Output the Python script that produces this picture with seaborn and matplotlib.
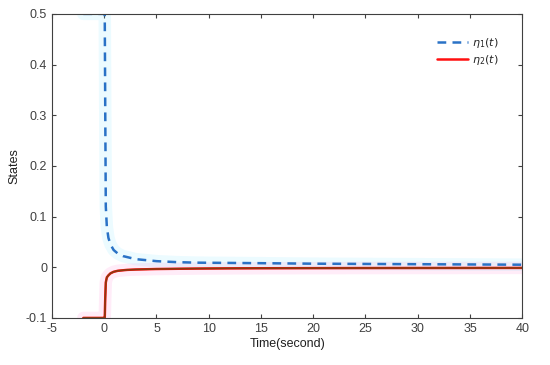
import numpy as np
import pandas as pd
import matplotlib
matplotlib.use("Agg")
import matplotlib.pyplot as plt
import seaborn as sns

# data
t = [-2, -1, 0, 0.05, 0.1, 0.15, 0.25, 0.4, 0.6, 0.9, 1.3, 1.8, 2.2, 3, 4, 5, 7, 9, 12, 15, 20, 25, 30, 35, 40]
eta1 = [0.5, 0.5, 0.5, 0.5, 0.3, 0.12, 0.08, 0.058, 0.045, 0.034, 0.027, 0.022, 0.02, 0.016, 0.014,
        0.012, 0.01, 0.009, 0.0085, 0.008, 0.007, 0.0065, 0.006, 0.0055, 0.005]
eta2 = [-0.1, -0.1, -0.1, -0.1, -0.06, -0.03, -0.02, -0.016, -0.012, -0.009, -0.007, -0.006, -0.0052,
        -0.0045, -0.004, -0.0035, -0.003, -0.0026, -0.0022, -0.002, -0.0018, -0.0016, -0.0015, -0.0014, -0.0013]

df = pd.DataFrame({"t": t, "eta1": eta1, "eta2": eta2})

sns.set_style("white")
plt.rcParams["font.family"] = ["Liberation Sans", "DejaVu Sans"]

fig = plt.figure(figsize=(5.5, 3.65), dpi=100)
ax = fig.add_axes([0.0945, 0.129, 0.855, 0.833])

# faint halos
sns.lineplot(data=df, x="t", y="eta2", ax=ax, color="#ff66cc", alpha=0.12, linewidth=9)
sns.lineplot(data=df, x="t", y="eta1", ax=ax, color="#66e0ff", alpha=0.12, linewidth=9)

sns.lineplot(data=df, x="t", y="eta2", ax=ax, color="#ff1010", linewidth=1.8, label=r"$\eta_2(t)$")
sns.lineplot(data=df, x="t", y="eta2", ax=ax, color="#8a3a10", linewidth=1.2)
sns.lineplot(data=df, x="t", y="eta1", ax=ax, color="#2a72c6", linewidth=1.8,
             linestyle=(0, (3.5, 2.5)), label=r"$\eta_1(t)$")

ax.set_xlim(-5, 40)
ax.set_ylim(-0.1, 0.5)
ax.set_xticks(np.arange(-5, 41, 5))
ax.set_yticks(np.arange(-0.1, 0.51, 0.1))
ax.set_yticklabels(["-0.1", "0", "0.1", "0.2", "0.3", "0.4", "0.5"])
ax.set_xticklabels([str(v) for v in range(-5, 41, 5)])
ax.tick_params(direction="in", length=3, colors="#404040", labelsize=9,
               top=True, right=True, bottom=True, left=True, width=0.8)
for s in ax.spines.values():
    s.set_color("#404040")
    s.set_linewidth(0.8)
ax.set_xlabel("Time(second)", fontsize=9, color="#202020", labelpad=2)
ax.set_ylabel("States", fontsize=9, color="#202020", labelpad=4)

h, l = ax.get_legend_handles_labels()
ax.legend([h[1], h[0]], [l[1], l[0]], loc="upper right", frameon=False, fontsize=8,
          bbox_to_anchor=(0.97, 0.96), handlelength=2.8, labelspacing=0.3, handletextpad=0.3)

fig.savefig("out.png", dpi=100)
